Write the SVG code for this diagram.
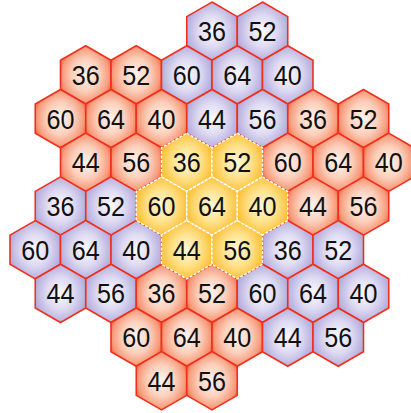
<svg xmlns="http://www.w3.org/2000/svg" width="411" height="413" viewBox="0 0 411 413">
<style>
.o{fill:url(#gO);stroke:#f0301c;stroke-width:1.6}
.p{fill:url(#gP);stroke:#f0301c;stroke-width:1.6}
.y{fill:url(#gY);stroke:#ffffff;stroke-width:1.4;stroke-dasharray:3 1.5}
text{font-family:"Liberation Sans",Arial,sans-serif;font-size:28px;fill:#111111;text-anchor:middle}
</style>
<defs>
<radialGradient id="gO" cx="0.5" cy="0.5" r="0.55">
<stop offset="0" stop-color="#fff4ee"/>
<stop offset="0.5" stop-color="#fcd0bc"/>
<stop offset="0.85" stop-color="#f79a7a"/>
<stop offset="1" stop-color="#f06a48"/>
</radialGradient>
<radialGradient id="gP" cx="0.5" cy="0.5" r="0.55">
<stop offset="0" stop-color="#fbfaff"/>
<stop offset="0.5" stop-color="#dedaf2"/>
<stop offset="1" stop-color="#aea6da"/>
</radialGradient>
<radialGradient id="gY" cx="0.5" cy="0.5" r="0.55">
<stop offset="0" stop-color="#fff8dc"/>
<stop offset="0.5" stop-color="#ffe28c"/>
<stop offset="1" stop-color="#fbbc2c"/>
</radialGradient>
<polygon id="hex" points="0,-29.15 25.25,-14.58 25.25,14.58 0,29.15 -25.25,14.58 -25.25,-14.58"/>
</defs>
<g id="connectors"/>
<!-- row 0 -->
<g id="n0a" transform="translate(212,31.2)"><use href="#hex" class="p"/><text y="10" textLength="28" lengthAdjust="spacingAndGlyphs">36</text></g>
<g id="n0b" transform="translate(262.5,31.2)"><use href="#hex" class="p"/><text y="10" textLength="28" lengthAdjust="spacingAndGlyphs">52</text></g>
<!-- row 1 -->
<g id="n1a" transform="translate(85.75,74.9)"><use href="#hex" class="o"/><text y="10" textLength="28" lengthAdjust="spacingAndGlyphs">36</text></g>
<g id="n1b" transform="translate(136.25,74.9)"><use href="#hex" class="o"/><text y="10" textLength="28" lengthAdjust="spacingAndGlyphs">52</text></g>
<g id="n1c" transform="translate(186.75,74.9)"><use href="#hex" class="p"/><text y="10" textLength="28" lengthAdjust="spacingAndGlyphs">60</text></g>
<g id="n1d" transform="translate(237.25,74.9)"><use href="#hex" class="p"/><text y="10" textLength="28" lengthAdjust="spacingAndGlyphs">64</text></g>
<g id="n1e" transform="translate(287.75,74.9)"><use href="#hex" class="p"/><text y="10" textLength="28" lengthAdjust="spacingAndGlyphs">40</text></g>
<!-- row 2 -->
<g id="n2a" transform="translate(60.5,118.6)"><use href="#hex" class="o"/><text y="10" textLength="28" lengthAdjust="spacingAndGlyphs">60</text></g>
<g id="n2b" transform="translate(111,118.6)"><use href="#hex" class="o"/><text y="10" textLength="28" lengthAdjust="spacingAndGlyphs">64</text></g>
<g id="n2c" transform="translate(161.5,118.6)"><use href="#hex" class="o"/><text y="10" textLength="28" lengthAdjust="spacingAndGlyphs">40</text></g>
<g id="n2d" transform="translate(212,118.6)"><use href="#hex" class="p"/><text y="10" textLength="28" lengthAdjust="spacingAndGlyphs">44</text></g>
<g id="n2e" transform="translate(262.5,118.6)"><use href="#hex" class="p"/><text y="10" textLength="28" lengthAdjust="spacingAndGlyphs">56</text></g>
<g id="n2f" transform="translate(313,118.6)"><use href="#hex" class="o"/><text y="10" textLength="28" lengthAdjust="spacingAndGlyphs">36</text></g>
<g id="n2g" transform="translate(363.5,118.6)"><use href="#hex" class="o"/><text y="10" textLength="28" lengthAdjust="spacingAndGlyphs">52</text></g>
<!-- row 3 -->
<g id="n3a" transform="translate(85.75,162.3)"><use href="#hex" class="o"/><text y="10" textLength="28" lengthAdjust="spacingAndGlyphs">44</text></g>
<g id="n3b" transform="translate(136.25,162.3)"><use href="#hex" class="o"/><text y="10" textLength="28" lengthAdjust="spacingAndGlyphs">56</text></g>
<g id="n3e" transform="translate(287.75,162.3)"><use href="#hex" class="o"/><text y="10" textLength="28" lengthAdjust="spacingAndGlyphs">60</text></g>
<g id="n3f" transform="translate(338.25,162.3)"><use href="#hex" class="o"/><text y="10" textLength="28" lengthAdjust="spacingAndGlyphs">64</text></g>
<g id="n3g" transform="translate(388.75,162.3)"><use href="#hex" class="o"/><text y="10" textLength="28" lengthAdjust="spacingAndGlyphs">40</text></g>
<!-- row 4 -->
<g id="n4a" transform="translate(60.5,206)"><use href="#hex" class="p"/><text y="10" textLength="28" lengthAdjust="spacingAndGlyphs">36</text></g>
<g id="n4b" transform="translate(111,206)"><use href="#hex" class="p"/><text y="10" textLength="28" lengthAdjust="spacingAndGlyphs">52</text></g>
<g id="n4f" transform="translate(313,206)"><use href="#hex" class="o"/><text y="10" textLength="28" lengthAdjust="spacingAndGlyphs">44</text></g>
<g id="n4g" transform="translate(363.5,206)"><use href="#hex" class="o"/><text y="10" textLength="28" lengthAdjust="spacingAndGlyphs">56</text></g>
<!-- row 5 -->
<g id="n5a" transform="translate(35.25,249.7)"><use href="#hex" class="p"/><text y="10" textLength="28" lengthAdjust="spacingAndGlyphs">60</text></g>
<g id="n5b" transform="translate(85.75,249.7)"><use href="#hex" class="p"/><text y="10" textLength="28" lengthAdjust="spacingAndGlyphs">64</text></g>
<g id="n5c" transform="translate(136.25,249.7)"><use href="#hex" class="p"/><text y="10" textLength="28" lengthAdjust="spacingAndGlyphs">40</text></g>
<g id="n5f" transform="translate(287.75,249.7)"><use href="#hex" class="p"/><text y="10" textLength="28" lengthAdjust="spacingAndGlyphs">36</text></g>
<g id="n5g" transform="translate(338.25,249.7)"><use href="#hex" class="p"/><text y="10" textLength="28" lengthAdjust="spacingAndGlyphs">52</text></g>
<!-- row 6 -->
<g id="n6a" transform="translate(60.5,293.4)"><use href="#hex" class="p"/><text y="10" textLength="28" lengthAdjust="spacingAndGlyphs">44</text></g>
<g id="n6b" transform="translate(111,293.4)"><use href="#hex" class="p"/><text y="10" textLength="28" lengthAdjust="spacingAndGlyphs">56</text></g>
<g id="n6c" transform="translate(161.5,293.4)"><use href="#hex" class="o"/><text y="10" textLength="28" lengthAdjust="spacingAndGlyphs">36</text></g>
<g id="n6d" transform="translate(212,293.4)"><use href="#hex" class="o"/><text y="10" textLength="28" lengthAdjust="spacingAndGlyphs">52</text></g>
<g id="n6e" transform="translate(262.5,293.4)"><use href="#hex" class="p"/><text y="10" textLength="28" lengthAdjust="spacingAndGlyphs">60</text></g>
<g id="n6f" transform="translate(313,293.4)"><use href="#hex" class="p"/><text y="10" textLength="28" lengthAdjust="spacingAndGlyphs">64</text></g>
<g id="n6g" transform="translate(363.5,293.4)"><use href="#hex" class="p"/><text y="10" textLength="28" lengthAdjust="spacingAndGlyphs">40</text></g>
<!-- row 7 -->
<g id="n7a" transform="translate(136.25,337.1)"><use href="#hex" class="o"/><text y="10" textLength="28" lengthAdjust="spacingAndGlyphs">60</text></g>
<g id="n7b" transform="translate(186.75,337.1)"><use href="#hex" class="o"/><text y="10" textLength="28" lengthAdjust="spacingAndGlyphs">64</text></g>
<g id="n7c" transform="translate(237.25,337.1)"><use href="#hex" class="o"/><text y="10" textLength="28" lengthAdjust="spacingAndGlyphs">40</text></g>
<g id="n7d" transform="translate(287.75,337.1)"><use href="#hex" class="p"/><text y="10" textLength="28" lengthAdjust="spacingAndGlyphs">44</text></g>
<g id="n7e" transform="translate(338.25,337.1)"><use href="#hex" class="p"/><text y="10" textLength="28" lengthAdjust="spacingAndGlyphs">56</text></g>
<!-- row 8 -->
<g id="n8a" transform="translate(161.5,380.8)"><use href="#hex" class="o"/><text y="10" textLength="28" lengthAdjust="spacingAndGlyphs">44</text></g>
<g id="n8b" transform="translate(212,380.8)"><use href="#hex" class="o"/><text y="10" textLength="28" lengthAdjust="spacingAndGlyphs">56</text></g>
<!-- centre cluster -->
<g id="c36" transform="translate(186.75,162.3)"><use href="#hex" class="y"/><text y="10" textLength="28" lengthAdjust="spacingAndGlyphs">36</text></g>
<g id="c52" transform="translate(237.25,162.3)"><use href="#hex" class="y"/><text y="10" textLength="28" lengthAdjust="spacingAndGlyphs">52</text></g>
<g id="c60" transform="translate(161.5,206)"><use href="#hex" class="y"/><text y="10" textLength="28" lengthAdjust="spacingAndGlyphs">60</text></g>
<g id="c64" transform="translate(212,206)"><use href="#hex" class="y"/><text y="10" textLength="28" lengthAdjust="spacingAndGlyphs">64</text></g>
<g id="c40" transform="translate(262.5,206)"><use href="#hex" class="y"/><text y="10" textLength="28" lengthAdjust="spacingAndGlyphs">40</text></g>
<g id="c44" transform="translate(186.75,249.7)"><use href="#hex" class="y"/><text y="10" textLength="28" lengthAdjust="spacingAndGlyphs">44</text></g>
<g id="c56" transform="translate(237.25,249.7)"><use href="#hex" class="y"/><text y="10" textLength="28" lengthAdjust="spacingAndGlyphs">56</text></g>
</svg>
